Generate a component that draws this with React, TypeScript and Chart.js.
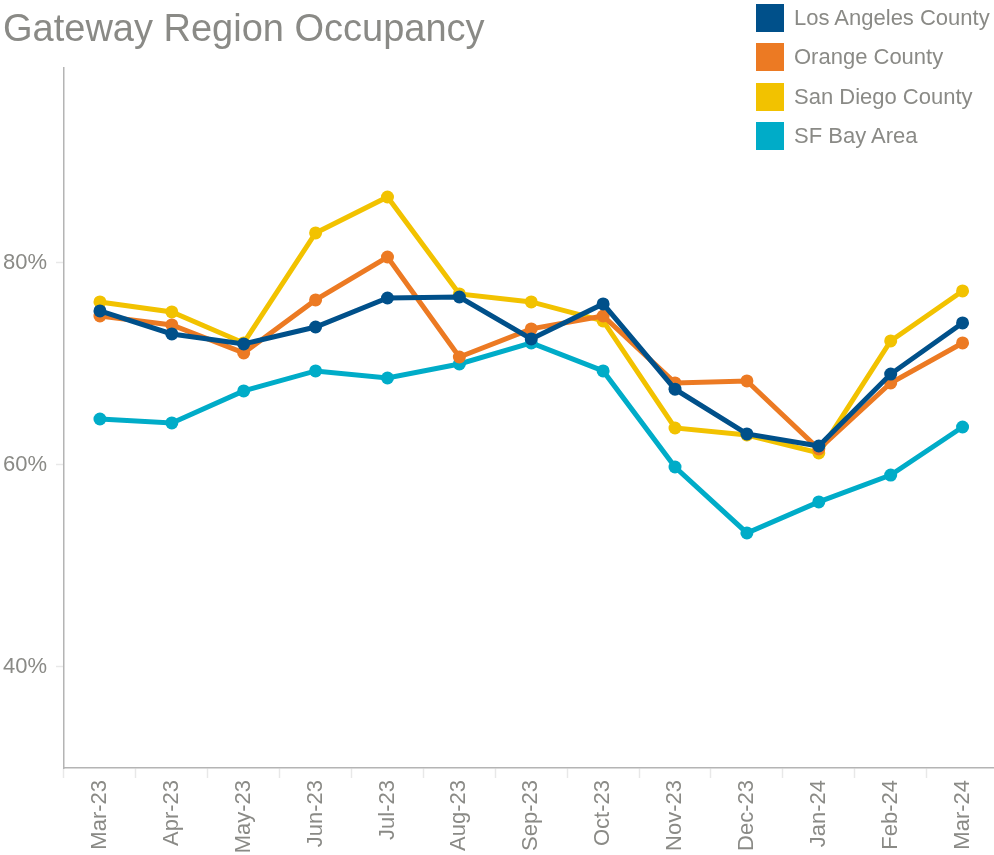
import React, { useEffect, useRef } from "react";
import { Chart, registerables } from "chart.js";

Chart.register(...registerables);

const months = ["Mar-23", "Apr-23", "May-23", "Jun-23", "Jul-23", "Aug-23", "Sep-23", "Oct-23", "Nov-23", "Dec-23", "Jan-24", "Feb-24", "Mar-24"];
const seriesNames = ["Los Angeles County", "Orange County", "San Diego County", "SF Bay Area"];
const seriesColors = ["#00508a", "#ec7a23", "#f2c200", "#00acc8"];
const losAngeles = [75.25, 72.97, 71.98, 73.66, 76.53, 76.63, 72.48, 75.94, 67.5, 63.07, 61.88, 69.0, 74.06];
const orangeCounty = [74.75, 73.86, 71.09, 76.34, 80.59, 70.69, 73.47, 74.75, 68.12, 68.32, 61.58, 68.12, 72.08];
const sanDiego = [76.14, 75.15, 72.08, 82.97, 86.53, 76.93, 76.14, 74.26, 63.66, 62.97, 61.19, 72.28, 77.23];
const sfBayArea = [64.55, 64.16, 67.33, 69.31, 68.61, 70.0, 72.08, 69.31, 59.8, 53.27, 56.34, 59.0, 63.76];
const yTicks = [40, 60, 80];

const TEXT = "#8a8a86";
const FONT = "'Liberation Sans', Arial, sans-serif";

export default function App() {
  const ref = useRef<HTMLCanvasElement | null>(null);
  useEffect(() => {
    if (!ref.current) return;
    const values = [losAngeles, orangeCounty, sanDiego, sfBayArea];
    const chart = new Chart(ref.current, {
      type: "line",
      data: {
        labels: months,
        datasets: values.map((v, i) => ({
          label: seriesNames[i],
          data: v,
          borderColor: seriesColors[i],
          backgroundColor: seriesColors[i],
          pointBackgroundColor: seriesColors[i],
          pointBorderColor: seriesColors[i],
          borderWidth: 5,
          pointRadius: 6.5,
          pointBorderWidth: 0,
          tension: 0,
        })),
      },
      options: {
        responsive: false,
        animation: false,
        layout: { padding: { top: 68, right: 2, left: 0, bottom: 0 } },
        plugins: { legend: { display: false }, tooltip: { enabled: false }, title: { display: false } },
        scales: {
          x: {
            offset: true,
            border: { color: "#b4b4b4", width: 1.5 },
            grid: { offset: true, drawOnChartArea: false, drawTicks: true, tickLength: 10, color: "#e8e8e8", tickWidth: 1.5 },
            ticks: { color: TEXT, font: { family: FONT, size: 22 }, minRotation: 90, maxRotation: 90, padding: 2, autoSkip: false },
            afterFit: (s: any) => { s.height = 87; },
          },
          y: {
            min: 30,
            max: 99.3,
            border: { color: "#b4b4b4", width: 1.5 },
            grid: { drawOnChartArea: false, drawTicks: true, tickLength: 8, color: "#e8e8e8", tickWidth: 1.5 },
            afterBuildTicks: (s: any) => { s.ticks = yTicks.map((v) => ({ value: v })); },
            ticks: { color: TEXT, font: { family: FONT, size: 22 }, padding: 9, callback: (v: any) => v + "%" },
            afterFit: (s: any) => { s.width = 64; },
          },
        },
      },
    });
    return () => chart.destroy();
  }, []);

  return (
    <div style={{ position: "absolute", left: 0, top: 0, width: 994, height: 855, overflow: "hidden", background: "#fff" }}>
      <canvas ref={ref} width={1005} height={855} style={{ position: "absolute", left: 0, top: 0 }} />
      <div style={{ position: "absolute", left: 3, top: 5, fontFamily: FONT, fontSize: 38, color: TEXT, lineHeight: "46px", whiteSpace: "nowrap" }}>
        Gateway Region Occupancy
      </div>
      {seriesNames.map((name, i) => (
        <div key={name} style={{ position: "absolute", left: 756, top: 4 + i * 39.3, height: 28, display: "flex", alignItems: "center", whiteSpace: "nowrap" }}>
          <div style={{ width: 28, height: 28, background: seriesColors[i] }} />
          <span style={{ marginLeft: 10, fontFamily: FONT, fontSize: 22, color: TEXT }}>{name}</span>
        </div>
      ))}
    </div>
  );
}
